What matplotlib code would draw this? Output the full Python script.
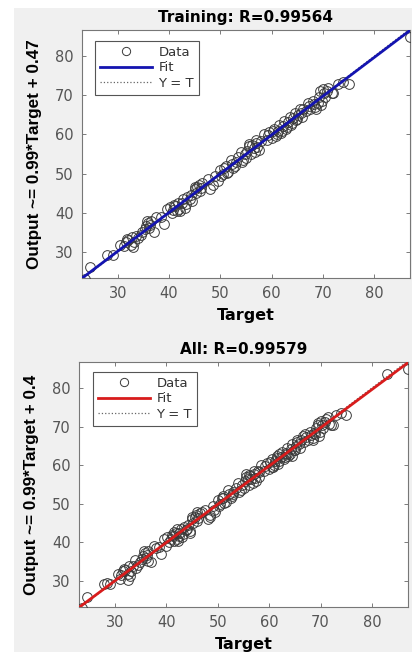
import matplotlib.pyplot as plt
import numpy as np
from matplotlib.patches import Rectangle

plt.rcParams["font.family"] = ["DejaVu Sans"]

# training set: target vs network output
train_target = [23.5, 24.5, 27.8, 29.0, 30.5, 31.5, 32.0, 32.5, 33.0, 33.5, 34.0, 34.5,
                35.5, 35.8, 36.0, 36.5, 37.0, 37.5, 39.0, 39.5, 40.5, 41.0, 41.5, 42.0,
                42.5, 43.0, 43.5, 44.0, 44.5, 45.0, 45.5, 46.0, 46.5, 47.5, 48.0, 48.5,
                49.0, 49.5, 50.0, 50.5, 51.0, 51.5, 52.0, 52.5, 53.0, 54.0, 54.5, 55.0,
                55.5, 56.0, 56.5, 57.0, 57.5, 58.5, 59.0, 59.5, 60.0, 60.5, 61.0, 61.5,
                62.0, 62.5, 63.0, 63.5, 64.0, 64.5, 65.0, 65.5, 66.0, 67.0, 67.5, 68.0,
                68.5, 69.0, 69.5, 70.0, 70.5, 71.0, 72.0, 73.0, 74.0, 75.0, 87.0,
                60.2, 60.8, 61.2, 61.8, 62.3, 62.8, 63.2, 63.7, 64.2, 64.8, 65.2, 65.8,
                66.2, 66.8, 59.2, 58.0, 50.2, 50.8, 51.2, 52.2, 52.8, 53.5, 54.2, 54.8,
                55.2, 56.2, 56.8, 57.2, 40.2, 40.8, 41.2, 41.8, 42.2, 42.8, 43.2, 44.2,
                45.2, 45.8, 46.2, 31.2, 31.8, 32.8, 33.2, 34.8, 35.2, 36.2, 35.6, 67.2,
                68.2, 69.2, 69.8, 70.2, 70.8, 55.5, 57.0, 68.6, 69.6, 71.7, 45.0, 38.5]
train_output = [23.0, 26.0, 29.2, 29.3, 31.8, 32.5, 33.0, 31.8, 31.2, 34.0, 33.5, 34.2,
                36.5, 37.3, 36.0, 37.8, 35.0, 39.0, 37.0, 41.0, 40.0, 42.0, 40.5, 41.0,
                42.5, 41.3, 44.0, 43.5, 43.0, 46.0, 46.5, 45.5, 47.5, 48.5, 46.0, 47.0,
                49.5, 48.0, 51.0, 50.0, 52.0, 50.5, 53.5, 51.5, 53.0, 55.5, 53.5, 54.0,
                57.0, 55.0, 56.5, 57.8, 56.0, 60.0, 58.5, 60.5, 59.0, 61.5, 60.0, 62.5,
                61.0, 63.5, 62.0, 64.5, 63.0, 65.5, 64.0, 66.5, 64.5, 68.0, 66.5, 68.5,
                67.0, 68.0, 71.0, 71.5, 69.5, 72.0, 70.5, 73.0, 73.5, 73.0, 85.0,
                60.8, 59.5, 61.0, 60.3, 62.2, 61.5, 63.2, 62.5, 64.3, 63.8, 65.0, 65.5,
                66.5, 66.0, 59.8, 58.3, 49.5, 51.5, 50.2, 52.5, 52.0, 54.2, 53.0, 55.0,
                55.8, 57.2, 55.5, 56.8, 41.5, 40.8, 41.8, 42.5, 40.5, 43.5, 42.2, 44.5,
                45.0, 47.0, 46.3, 31.5, 33.2, 33.8, 32.5, 35.0, 35.8, 36.8, 37.8, 67.3,
                67.8, 69.5, 68.5, 70.5, 71.2, 57.6, 58.6, 66.6, 67.6, 70.6, 46.6, 38.8]

# validation + test points, added to the training set in the "All" panel
extra_target = [28.5, 31.0, 32.5, 33.8, 36.5, 38.0, 40.0, 42.0, 44.5, 46.0, 48.5, 51.0,
                53.0, 56.0, 58.0, 60.5, 62.0, 64.5, 66.5, 69.5, 71.5, 72.5, 83.0,
                41.5, 42.5, 43.8, 47.0, 49.2, 55.8, 57.8, 61.5, 63.5, 65.5, 68.8]
extra_output = [29.5, 30.5, 30.2, 35.5, 35.2, 38.5, 39.0, 43.5, 42.5, 48.0, 46.5, 51.5,
                52.5, 57.5, 57.0, 59.5, 63.0, 62.5, 67.5, 70.5, 72.5, 70.3, 83.5,
                42.8, 41.8, 43.2, 47.8, 48.5, 56.5, 58.5, 61.8, 63.0, 66.0, 68.2]

panels = [
    ("Training: R=0.99564", "Output ~= 0.99*Target + 0.47", 0.99, 0.47, "#1414b0",
     train_target, train_output),
    ("All: R=0.99579", "Output ~= 0.99*Target + 0.4", 0.99, 0.4, "#d81c1c",
     train_target + extra_target, train_output + extra_output),
]
axes_px = [(82, 30, 410, 278), (79, 362, 408, 607)]
legend_px = [(95, 41), (93, 372)]

W, H = 412, 652
fig = plt.figure(figsize=(W / 100, H / 100), dpi=100)
fig.patch.set_facecolor("white")
fig.patches.append(Rectangle((14 / W, 0), 1, (H - 8) / H, transform=fig.transFigure,
                             facecolor="#f0f0f0", edgecolor="none", zorder=-10))

lims = (23, 87)
for (title, ylabel, slope, icpt, fit_color, tgt, out), (l, t, r, b), (lx, ly) in zip(
        panels, axes_px, legend_px):
    ax = fig.add_axes((l / W, (H - b) / H, (r - l) / W, (b - t) / H))
    ax.set_facecolor("white")
    xs = np.array(lims)
    ax.plot(tgt, out, "o", mfc="none", mec="#3a3a3a", mew=0.7, ms=7, label="Data", zorder=3)
    ax.plot(xs, slope * xs + icpt, "-", color=fit_color, lw=2, label="Fit", zorder=4)
    ax.plot(xs, xs, ":", color="#666666", lw=0.9, label="Y = T", zorder=2)
    ax.set_xlim(lims)
    ax.set_ylim(23.3, 86.7)
    ax.set_xticks([30, 40, 50, 60, 70, 80])
    ax.set_yticks([30, 40, 50, 60, 70, 80])
    ax.tick_params(direction="in", length=3, width=0.6, top=True, right=True,
                   labelsize=10.5, colors="#666666", labelcolor="#555555", pad=6)
    for sp in ax.spines.values():
        sp.set_color("#777777")
        sp.set_linewidth(0.8)
    ax.set_title(title, fontsize=11, fontweight="bold", pad=6)
    ax.set_xlabel("Target", fontsize=11.5, fontweight="bold", labelpad=5)
    ax.set_ylabel(ylabel, fontsize=12.3, fontweight="bold", fontstyle="normal", labelpad=9,
                  family=["Liberation Sans", "DejaVu Sans"])
    leg = ax.legend(loc="upper left", bbox_to_anchor=((lx - l) / (r - l), 1 - (ly - t) / (b - t)),
                    fontsize=9.5, handlelength=4.0, fancybox=False, framealpha=1,
                    edgecolor="#555555", borderpad=0.35, labelspacing=0.2,
                    handletextpad=0.45, borderaxespad=0, markerscale=0.85)
    leg.get_frame().set_linewidth(0.8)
    for txt in leg.get_texts():
        txt.set_color("#333333")

fig.savefig("out.png", dpi=100)
